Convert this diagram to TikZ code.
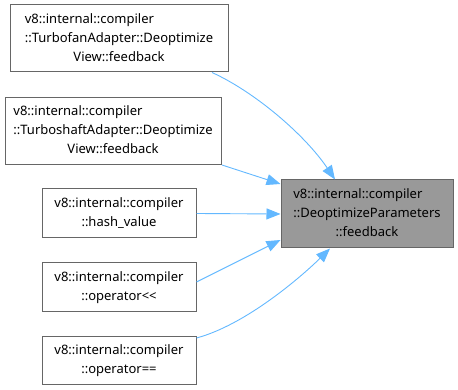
\documentclass[tikz,border=0pt]{standalone}
\usepackage{fontspec}
\setmainfont{Noto Sans}
\usepackage{tikz}
\usetikzlibrary{arrows.meta}

\definecolor{boxline}{HTML}{666666}
\definecolor{boxfill}{HTML}{999999}
\definecolor{edgeblue}{HTML}{63B8FF}

\begin{document}
\begin{tikzpicture}[x=1pt,y=-1pt,
	fn/.style={draw=boxline,fill=white,line width=1pt,inner sep=0pt,font=\fontsize{13}{19}\selectfont},
	cur/.style={fn,fill=boxfill},
	call/.style={draw=edgeblue,line width=0.9pt,-{Triangle[length=14pt,width=11pt]}}]
	\useasboundingbox (0,0) rectangle (458,390);
	\node[fn,minimum width=218pt,minimum height=67pt] (tbfan) at (119,38.5) {\begin{tabular}{@{}l@{}}v8::internal::compiler\\::TurbofanAdapter::Deoptimize\\\multicolumn{1}{@{}c@{}}{View::feedback}\end{tabular}};
	\node[fn,minimum width=216pt,minimum height=67pt] (tbshaft) at (113,131) {\begin{tabular}{@{}l@{}}v8::internal::compiler\\::TurboshaftAdapter::Deoptimize\\\multicolumn{1}{@{}c@{}}{View::feedback}\end{tabular}};
	\node[fn,minimum width=154pt,minimum height=49pt] (hash) at (119,213.5) {\begin{tabular}{@{}l@{}}v8::internal::compiler\\\multicolumn{1}{@{}c@{}}{::hash\_value}\end{tabular}};
	\node[fn,minimum width=154pt,minimum height=48pt] (opshl) at (119,287) {\begin{tabular}{@{}l@{}}v8::internal::compiler\\\multicolumn{1}{@{}c@{}}{::operator<{}<}\end{tabular}};
	\node[fn,minimum width=154pt,minimum height=48pt] (opeq) at (119,360) {\begin{tabular}{@{}l@{}}v8::internal::compiler\\\multicolumn{1}{@{}c@{}}{::operator==}\end{tabular}};
	\node[cur,minimum width=172pt,minimum height=68pt] (params) at (367,214) {\begin{tabular}{@{}l@{}}v8::internal::compiler\\::DeoptimizeParameters\\\multicolumn{1}{@{}c@{}}{::feedback}\end{tabular}};
	% callers -> DeoptimizeParameters::feedback
	\draw[call] ([xshift=93pt]tbfan.south) .. controls (255,92) and (305,135) .. ([xshift=-32pt]params.north);
	\draw[call] ([xshift=109pt]tbshaft.south) -- ([yshift=30pt]params.west);
	\draw[call] (hash.east) -- (params.west);
	\draw[call] ([yshift=5pt]opshl.east) -- ([yshift=-26pt]params.west);
	\draw[call] ([yshift=22pt]opeq.east) .. controls (245,325) and (300,278) .. ([xshift=-37pt]params.south);
\end{tikzpicture}
\end{document}
